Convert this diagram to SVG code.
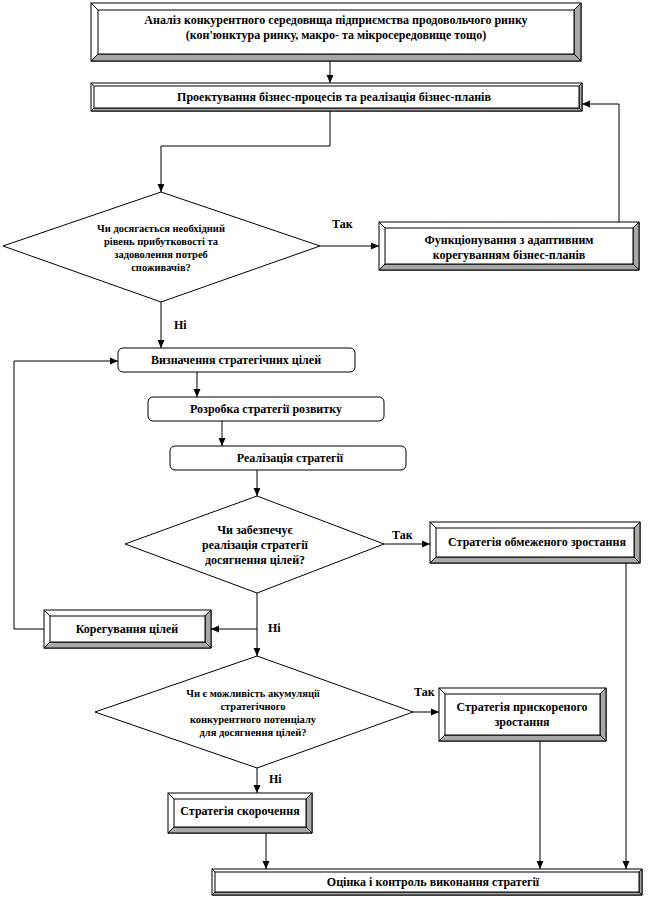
<svg xmlns="http://www.w3.org/2000/svg" width="654" height="898" viewBox="0 0 654 898">
<defs>
<marker id="ah" viewBox="0 0 8 8" refX="8" refY="4" markerWidth="8" markerHeight="8" markerUnits="userSpaceOnUse" orient="auto"><path d="M0,0.5 L8,4 L0,7.5 Z" fill="#000"/></marker>
</defs>
<style>
.o{fill:#fff;stroke:#000;stroke-width:1}
.sh{fill:#a8a8a8;stroke:#000;stroke-width:1}
.in{fill:#fff;stroke:#000;stroke-width:1}
.d{stroke:#000;stroke-width:1}
.rr{fill:#fff;stroke:#000;stroke-width:1}
.dm{fill:#fff;stroke:#000;stroke-width:1}
.c{fill:none;stroke:#000;stroke-width:1;marker-end:url(#ah)}
text{font-family:"Liberation Serif","Times New Roman",serif;font-weight:bold;fill:#000;text-anchor:middle}
.t{font-size:12px}
.s{font-size:10.5px}
.l{font-size:12px;text-anchor:start}
</style>
<rect width="654" height="898" fill="#fff"/>
<g id="connectors">
<path class="c" d="M330,61 V83"/>
<path class="c" d="M330,111 V146 H161 V192"/>
<path class="c" d="M320,246 H379"/>
<path class="c" d="M619,222 V104 H582"/>
<path class="c" d="M161,302 V348"/>
<path class="c" d="M197,372 V397"/>
<path class="c" d="M222,421 V446"/>
<path class="c" d="M257,470 V496"/>
<path class="c" d="M384,544 H430"/>
<path class="c" d="M626,563 V869"/>
<path class="c" d="M257,593 V656"/>
<path class="c" d="M257,629 H211"/>
<path class="c" d="M44,629 H14 V361 H118"/>
<path class="c" d="M413,712 H439"/>
<path class="c" d="M540,741 V869"/>
<path class="c" d="M257,768 V793"/>
<path class="c" d="M266,833 V869"/>
<text class="l" x="332" y="228">Так</text>
<text class="l" x="174" y="329">Ні</text>
<text class="l" x="392" y="539">Так</text>
<text class="l" x="268" y="632">Ні</text>
<text class="l" x="414" y="696">Так</text>
<text class="l" x="269" y="783">Ні</text>
</g>
<g id="n1">
<rect class="o" x="91" y="3" width="490" height="58"/>
<path class="sh" d="M581,3 V61 H91 L98,54 H574 V10 Z"/>
<rect class="in" x="98" y="10" width="476" height="44"/>
<path class="d" d="M91,3 L98,10 M581,3 L574,10 M91,61 L98,54 M581,61 L574,54"/>
<text class="t" x="336" y="24">Аналіз конкурентного середовища підприємства продовольчого ринку</text>
<text class="t" x="336" y="39">(кон'юнктура ринку, макро- та мікросередовище тощо)</text>
</g>
<g id="n2">
<rect class="o" x="91" y="83" width="491" height="28"/>
<path class="sh" d="M582,83 V111 H91 L94,108 H579 V86 Z"/>
<rect class="in" x="94" y="86" width="485" height="22"/>
<path class="d" d="M91,83 L94,86 M582,83 L579,86 M91,111 L94,108 M582,111 L579,108"/>
<text class="t" x="334" y="101">Проектування бізнес-процесів  та реалізація бізнес-планів</text>
</g>
<g id="d1">
<polygon class="dm" points="161,192 320,246 161,302 3,246"/>
<text class="s" x="161" y="232">Чи досягається необхідний</text>
<text class="s" x="161" y="245">рівень прибутковості та</text>
<text class="s" x="161" y="258">задоволення потреб</text>
<text class="s" x="161" y="271">споживачів?</text>
</g>
<g id="n3">
<rect class="o" x="379" y="222" width="260" height="48"/>
<path class="sh" d="M639,222 V270 H379 L385,264 H633 V228 Z"/>
<rect class="in" x="385" y="228" width="248" height="36"/>
<path class="d" d="M379,222 L385,228 M639,222 L633,228 M379,270 L385,264 M639,270 L633,264"/>
<text class="t" x="509" y="244">Функціонування з адаптивним</text>
<text class="t" x="509" y="259">корегуванням бізнес-планів</text>
</g>
<g id="n4">
<rect class="rr" x="118" y="348" width="237" height="24" rx="5"/>
<text class="t" x="236" y="364">Визначення стратегічних цілей</text>
</g>
<g id="n5">
<rect class="rr" x="148" y="397" width="236" height="24" rx="5"/>
<text class="t" x="266" y="413">Розробка стратегії розвитку</text>
</g>
<g id="n6">
<rect class="rr" x="170" y="446" width="236" height="24" rx="5"/>
<text class="t" x="290" y="462">Реалізація стратегії</text>
</g>
<g id="d2">
<polygon class="dm" points="257,496 384,544 257,593 125,544"/>
<text class="t" x="255" y="534">Чи забезпечує</text>
<text class="t" x="255" y="549">реалізація стратегії</text>
<text class="t" x="255" y="564">досягнення цілей?</text>
</g>
<g id="n7">
<rect class="o" x="430" y="522" width="210" height="41"/>
<path class="sh" d="M640,522 V563 H430 L436,557 H634 V528 Z"/>
<rect class="in" x="436" y="528" width="198" height="29"/>
<path class="d" d="M430,522 L436,528 M640,522 L634,528 M430,563 L436,557 M640,563 L634,557"/>
<text class="t" x="537" y="546">Стратегія обмеженого зростання</text>
</g>
<g id="n8">
<rect class="o" x="44" y="610" width="167" height="38"/>
<path class="sh" d="M211,610 V648 H44 L50,642 H205 V616 Z"/>
<rect class="in" x="50" y="616" width="155" height="26"/>
<path class="d" d="M44,610 L50,616 M211,610 L205,616 M44,648 L50,642 M211,648 L205,642"/>
<text class="t" x="127" y="633">Корегування цілей</text>
</g>
<g id="d3">
<polygon class="dm" points="257,656 413,712 257,768 95,712"/>
<text class="s" x="253" y="697">Чи є можливість акумуляції</text>
<text class="s" x="253" y="710">стратегічного</text>
<text class="s" x="253" y="723">конкурентного потенціалу</text>
<text class="s" x="253" y="736">для досягнення цілей?</text>
</g>
<g id="n9">
<rect class="o" x="439" y="688" width="167" height="53"/>
<path class="sh" d="M606,688 V741 H439 L445,735 H600 V694 Z"/>
<rect class="in" x="445" y="694" width="155" height="41"/>
<path class="d" d="M439,688 L445,694 M606,688 L600,694 M439,741 L445,735 M606,741 L600,735"/>
<text class="t" x="522" y="711">Стратегія прискореного</text>
<text class="t" x="522" y="726">зростання</text>
</g>
<g id="n10">
<rect class="o" x="168" y="793" width="144" height="40"/>
<path class="sh" d="M312,793 V833 H168 L174,827 H306 V799 Z"/>
<rect class="in" x="174" y="799" width="132" height="28"/>
<path class="d" d="M168,793 L174,799 M312,793 L306,799 M168,833 L174,827 M312,833 L306,827"/>
<text class="t" x="240" y="815">Стратегія скорочення</text>
</g>
<g id="n11">
<rect class="o" x="212" y="869" width="430" height="26"/>
<path class="sh" d="M642,869 V895 H212 L215,892 H639 V872 Z"/>
<rect class="in" x="215" y="872" width="424" height="20"/>
<path class="d" d="M212,869 L215,872 M642,869 L639,872 M212,895 L215,892 M642,895 L639,892"/>
<text class="t" x="433" y="886">Оцінка і контроль виконання стратегії</text>
</g>
</svg>
